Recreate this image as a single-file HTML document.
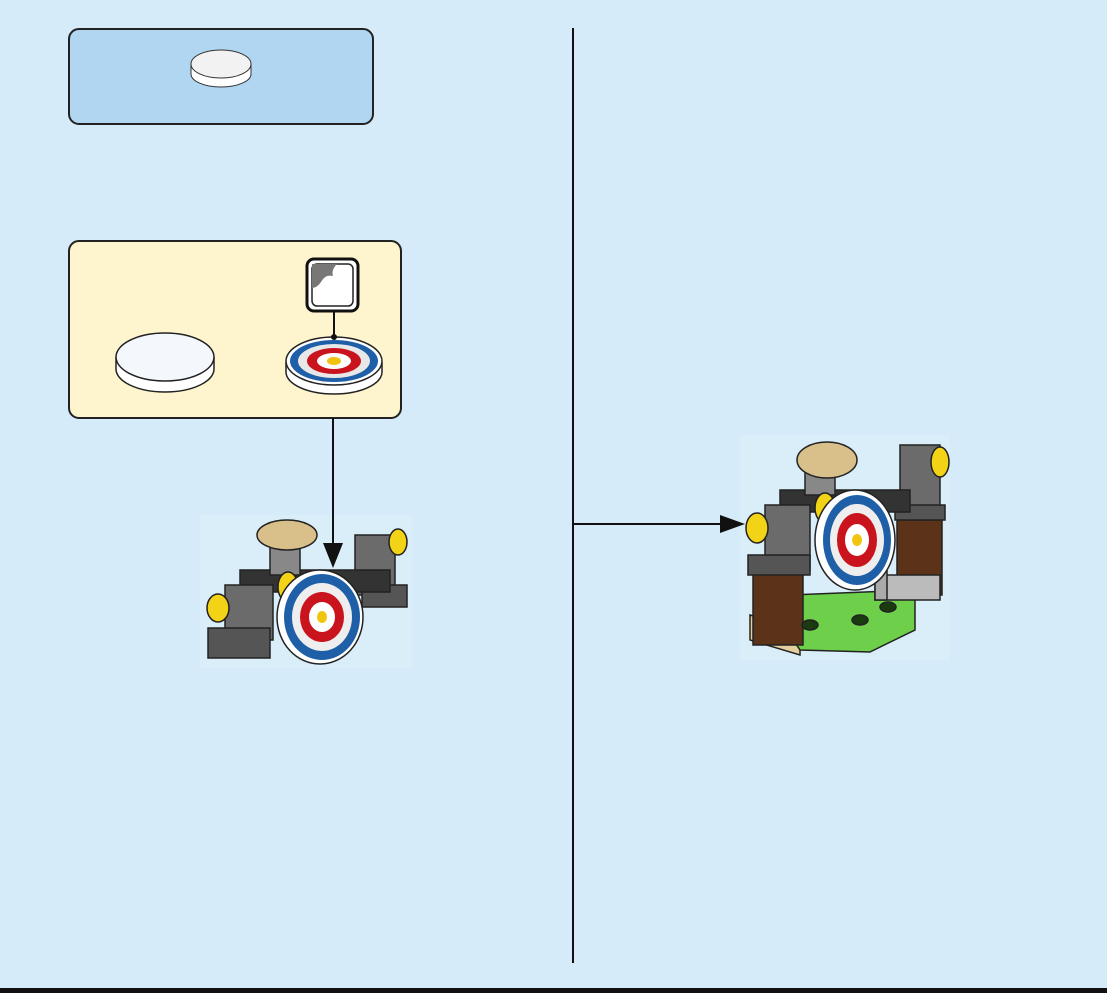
<!DOCTYPE html>
<html><head><style>
html,body{margin:0;padding:0;background:#d5ebf9;}
svg{display:block}
</style></head><body>
<svg width="1107" height="993" viewBox="0 0 1107 993" xmlns="http://www.w3.org/2000/svg">
<rect width="1107" height="993" fill="#d5ebf9"/>
<rect x="0" y="988" width="1107" height="5" fill="#111"/>
<!-- top box -->
<rect x="69" y="29" width="304" height="95" rx="10" fill="#b1d6f1" stroke="#222" stroke-width="2"/>
<path d="M191 64 v10 a30 13 0 0 0 60 0 v-10" fill="#fff" stroke="#333"/>
<ellipse cx="221" cy="64" rx="30" ry="14" fill="#f2f2f2" stroke="#333"/>
<!-- yellow box -->
<rect x="69" y="241" width="332" height="177" rx="10" fill="#fef4cd" stroke="#222" stroke-width="2"/>
<path d="M116 357 v12 a49 23 0 0 0 98 0 v-12" fill="#fff" stroke="#222" stroke-width="1.5"/>
<ellipse cx="165" cy="357" rx="49" ry="24" fill="#f4f8fc" stroke="#222" stroke-width="1.5"/>
<path d="M286 362 v10 a48 22 0 0 0 96 0 v-10" fill="#fff" stroke="#222" stroke-width="1.5"/>
<ellipse cx="334" cy="361" rx="48" ry="24" fill="#fff" stroke="#222" stroke-width="1.5"/>
<ellipse cx="334" cy="361" rx="44" ry="21" fill="#1f5fa8"/>
<ellipse cx="334" cy="361" rx="36" ry="17" fill="#e8e8e8"/>
<ellipse cx="334" cy="361" rx="27" ry="13" fill="#c9141e"/>
<ellipse cx="334" cy="361" rx="17" ry="8" fill="#fff"/>
<ellipse cx="334" cy="361" rx="7" ry="4" fill="#f1c40f"/>
<line x1="334" y1="311" x2="334" y2="338" stroke="#111" stroke-width="2"/>
<circle cx="334" cy="337" r="3" fill="#111"/>
<rect x="307" y="259" width="51" height="52" rx="7" fill="#fff" stroke="#111" stroke-width="3"/>
<rect x="312" y="264" width="41" height="42" rx="5" fill="#fff" stroke="#222" stroke-width="1.5"/>
<path d="M312 264 h25 q-6 6 -4 12 q-8 -2 -12 6 q-4 6 -9 6 z" fill="#777"/>
<!-- divider -->
<line x1="573" y1="28" x2="573" y2="963" stroke="#111" stroke-width="2"/>
<!-- model 1 -->
<rect x="200" y="515" width="212" height="153" fill="#daeefa"/>
<g stroke="#222" stroke-width="1.5">
<rect x="355" y="535" width="40" height="60" fill="#6b6b6b"/>
<rect x="362" y="585" width="45" height="22" fill="#555"/>
<ellipse cx="398" cy="542" rx="9" ry="13" fill="#f3d315"/>
<rect x="240" y="570" width="150" height="22" fill="#333"/>
<rect x="225" y="585" width="48" height="55" fill="#6b6b6b"/>
<rect x="208" y="628" width="62" height="30" fill="#555"/>
<ellipse cx="218" cy="608" rx="11" ry="14" fill="#f3d315"/>
<rect x="270" y="545" width="30" height="30" fill="#888"/>
<ellipse cx="287" cy="535" rx="30" ry="15" fill="#d9c08a"/>
<ellipse cx="288" cy="587" rx="10" ry="15" fill="#f3d315"/>
<ellipse cx="320" cy="617" rx="43" ry="47" fill="#fff"/>
</g>
<ellipse cx="322" cy="617" rx="38" ry="43" fill="#1f5fa8"/>
<ellipse cx="322" cy="617" rx="30" ry="34" fill="#eee"/>
<ellipse cx="322" cy="617" rx="22" ry="25" fill="#c9141e"/>
<ellipse cx="322" cy="617" rx="13" ry="15" fill="#fff"/>
<ellipse cx="322" cy="617" rx="5" ry="6" fill="#f1c40f"/>
<!-- connector down -->
<line x1="333" y1="418" x2="333" y2="545" stroke="#111" stroke-width="2"/>
<polygon points="323,543 343,543 333,568" fill="#111"/>
<!-- model 2 -->
<rect x="740" y="435" width="210" height="225" fill="#daeefa"/>
<g stroke="#222" stroke-width="1.5">
<polygon points="750,615 800,630 800,655 750,640" fill="#e3cf9b"/>
<polygon points="790,595 915,590 915,630 870,652 800,650 790,635" fill="#6ecf4a"/>
<rect x="897" y="510" width="45" height="85" fill="#5c3318"/>
<rect x="875" y="575" width="65" height="25" fill="#bbb"/>
<rect x="875" y="565" width="12" height="35" fill="#aaa"/>
<rect x="753" y="570" width="50" height="75" fill="#5c3318"/>
<rect x="900" y="445" width="40" height="75" fill="#6b6b6b"/>
<rect x="895" y="505" width="50" height="15" fill="#555"/>
<ellipse cx="940" cy="462" rx="9" ry="15" fill="#f3d315"/>
<rect x="780" y="490" width="130" height="22" fill="#333"/>
<rect x="805" y="465" width="30" height="30" fill="#888"/>
<ellipse cx="827" cy="460" rx="30" ry="18" fill="#d9c08a"/>
<rect x="765" y="505" width="45" height="65" fill="#6b6b6b"/>
<rect x="748" y="555" width="62" height="20" fill="#555"/>
<ellipse cx="757" cy="528" rx="11" ry="15" fill="#f3d315"/>
<ellipse cx="825" cy="508" rx="10" ry="15" fill="#f3d315"/>
<ellipse cx="855" cy="540" rx="40" ry="50" fill="#fff"/>
<ellipse cx="810" cy="625" rx="8" ry="5" fill="#1a3a10"/>
<ellipse cx="860" cy="620" rx="8" ry="5" fill="#1a3a10"/>
<ellipse cx="888" cy="607" rx="8" ry="5" fill="#1a3a10"/>
</g>
<ellipse cx="857" cy="540" rx="34" ry="45" fill="#1f5fa8"/>
<ellipse cx="857" cy="540" rx="27" ry="36" fill="#eee"/>
<ellipse cx="857" cy="540" rx="20" ry="27" fill="#c9141e"/>
<ellipse cx="857" cy="540" rx="12" ry="16" fill="#fff"/>
<ellipse cx="857" cy="540" rx="5" ry="6" fill="#f1c40f"/>
<line x1="573" y1="524" x2="722" y2="524" stroke="#111" stroke-width="2"/>
<polygon points="720,515 745,524 720,533" fill="#111"/>
</svg>
</body></html>
